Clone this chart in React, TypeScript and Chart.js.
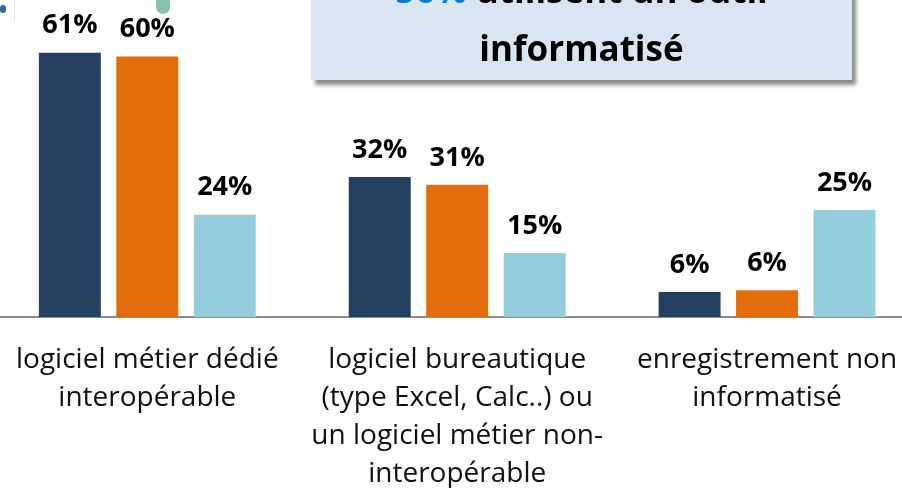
import React, { useEffect, useRef } from "react";
import { Chart, registerables } from "chart.js";

Chart.register(...registerables);

const categories = [
  ["logiciel métier dédié", "interopérable"],
  ["logiciel bureautique", "(type Excel, Calc..) ou", "un logiciel métier non-", "interopérable"],
  ["enregistrement non", "informatisé"],
];
const seriesA = [61.2, 32.4, 5.8];
const seriesB = [60.3, 30.6, 6.2];
const seriesC = [23.7, 14.8, 24.8];
const labelsA = ["61%", "32%", "6%"];
const labelsB = ["60%", "31%", "6%"];
const labelsC = ["24%", "15%", "25%"];
const seriesLabels = [labelsA, labelsB, labelsC];
const colors = ["#253f60", "#e46c0a", "#95cddd"];
const FONT = '"Open Sans", sans-serif';

const valueLabels = {
  id: "valueLabels",
  afterDatasetsDraw(chart: any) {
    const { ctx } = chart;
    ctx.save();
    ctx.font = `bold 27px ${FONT}`;
    ctx.fillStyle = "#000";
    ctx.textAlign = "center";
    ctx.textBaseline = "middle";
    chart.data.datasets.forEach((_: any, i: number) => {
      chart.getDatasetMeta(i).data.forEach((bar: any, j: number) => {
        ctx.fillText(seriesLabels[i][j], bar.x, bar.y - 27);
      });
    });
    ctx.restore();
  },
};

export default function App() {
  const ref = useRef<HTMLCanvasElement>(null);
  useEffect(() => {
    document.body.style.margin = "0";
    const chart = new Chart(ref.current!, {
      type: "bar",
      data: {
        labels: categories,
        datasets: [seriesA, seriesB, seriesC].map((d, i) => ({
          label: `Série ${i + 1}`,
          data: d,
          backgroundColor: colors[i],
          categoryPercentage: 0.75,
          barPercentage: 0.8,
        })),
      },
      options: {
        animation: false,
        responsive: false,
        layout: { padding: 0 },
        plugins: { legend: { display: false }, tooltip: { enabled: false } },
        scales: {
          x: {
            grid: { display: false, drawTicks: false },
            border: { color: "#8c8c8c", width: 2 },
            ticks: {
              color: "#111",
              font: { family: FONT, size: 28, lineHeight: 1.36 },
              padding: 24,
              maxRotation: 0,
              autoSkip: false,
            },
            afterFit(s: any) { s.height = 171; },
          },
          y: {
            display: false,
            min: 0,
            max: 73.4,
          },
        },
      },
      plugins: [valueLabels],
    });
    return () => chart.destroy();
  }, []);
  return (
    <div style={{ position: "relative", width: 902, height: 488, overflow: "hidden", background: "#fff" }}>
      <canvas ref={ref} width={930} height={488} style={{ position: "absolute", left: -8, top: 0 }} />
      <div style={{ position: "absolute", left: 156, top: -4, width: 14, height: 18, background: "#86c2ac", borderRadius: "0 0 8px 8px" }} />
      <div style={{ position: "absolute", left: 0, top: 5, width: 6, height: 8, background: "#2f6d8c", borderRadius: 3 }} />
      <div style={{ position: "absolute", left: 14, top: 0, width: 1, height: 22, background: "#dfe6ea" }} />
      <div
        style={{
          position: "absolute", left: 311, top: -39, width: 541, height: 119,
          background: "#dbe5f1", boxShadow: "4px 5px 4px #8a8a8a",
          fontFamily: FONT, fontWeight: 700, fontSize: 35, lineHeight: "58px",
          textAlign: "center", color: "#000",
        }}
      >
        <span style={{ color: "#0a7bd0" }}>56%</span> utilisent un outil<br />informatisé
      </div>
    </div>
  );
}
